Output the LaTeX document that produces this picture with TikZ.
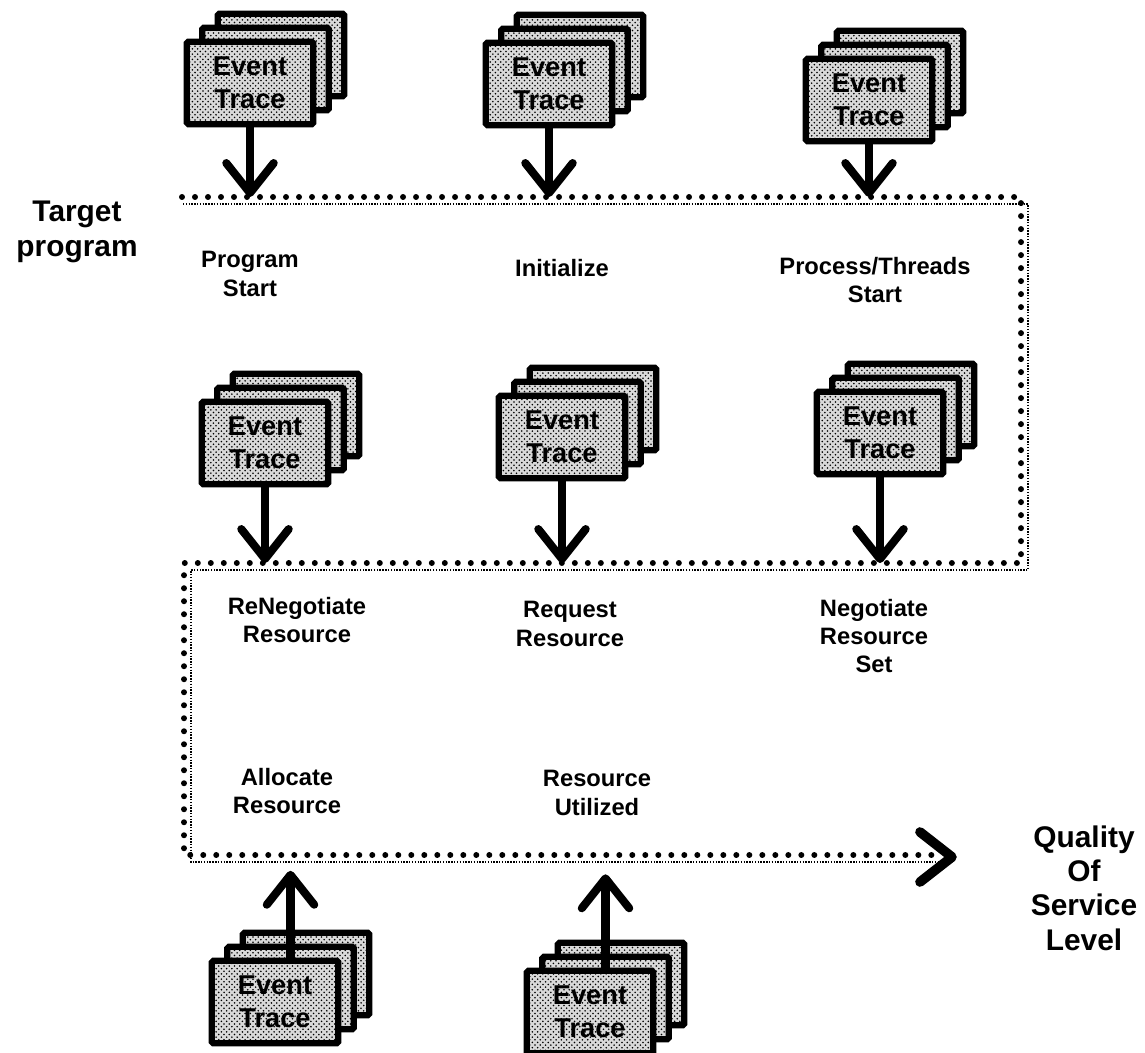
\documentclass[tikz,border=0pt]{standalone}
\usepackage{fontspec}
\setmainfont{Liberation Sans}
\usetikzlibrary{arrows.meta,patterns}

\tikzset{
  trace/.style={draw, line width=3.6pt, rounded corners=1pt, preaction={fill=black!15},
    pattern=crosshatch dots, minimum width=72pt, minimum height=47pt, inner sep=0pt,
    align=center, font=\bfseries\fontsize{15.5}{19}\selectfont},
  evarrow/.style={line width=4.6pt, line cap=round, -{Straight Barb[round,length=17pt,width=27pt]}},
  bigdots/.style={line width=3.4pt, line cap=round, dash pattern=on 0pt off 7.4pt},
  finedots/.style={line width=0.8pt, dash pattern=on 0.8pt off 0.8pt},
  lbl/.style={align=center, font=\bfseries\fontsize{13.5}{16}\selectfont},
  biglbl/.style={align=center, font=\bfseries\fontsize{17}{19.5}\selectfont},
}

\begin{document}
\begin{tikzpicture}[x=0.02cm,y=-0.02cm]

    \useasboundingbox (0,0) rectangle (1145,1053);

    % corners of the time line
    \coordinate (tl) at (182,197);
    \coordinate (tr) at (1021,197);
    \coordinate (mr) at (1021,563);
    \coordinate (ml) at (184,563);
    \coordinate (bl) at (184,855);
    \coordinate (be) at (952,857);

    % the time line: big dots and a fine dotted line beside them
    \draw[bigdots] (tl) -- (tr) -- (mr) -- (ml) -- (bl) -- ([shift={(-14,-2)}]be);
    \draw[finedots] ([shift={(1,7)}]tl) -- ([shift={(7,7)}]tr) -- ([shift={(7,7)}]mr)
        -- ([shift={(7,7)}]ml) -- ([shift={(7,7)}]bl) -- ([shift={(-14,5)}]be);
    \draw[line width=5.5pt, line cap=round, line join=round]
        ([shift={(-32,-25)}]be) -- (be) -- ([shift={(-32,25)}]be); % end of the line

    % stacks of event traces
    \foreach \n/\x/\y in {t1/250/83, t2/549/84, t3/869/100, t4/265/443,
                          t5/562/437, t6/880/433, t7/275/1002, t8/590/1012} {
        \node[trace] (b\n) at (\x+31,\y-28) {};
        \node[trace] (m\n) at (\x+15.5,\y-14) {};
        \node[trace] (\n) at (\x,\y) {Event\\Trace};
    }

    % traces flowing into the time line
    \draw[evarrow] (t1.south) -- (t1.south |- tr);
    \draw[evarrow] (t2.south) -- (t2.south |- tr);
    \draw[evarrow] (t3.south) -- (t3.south |- tr);
    \draw[evarrow] (t4.south) -- (t4.south |- ml);
    \draw[evarrow] (t5.south) -- (t5.south |- ml);
    \draw[evarrow] (t6.south) -- (t6.south |- ml);
    \draw[evarrow, shorten >=9pt] (mt7.north |- t7.north) -- (mt7.north |- bl);
    \draw[evarrow, shorten >=11pt] (mt8.north |- t8.north) -- (mt8.north |- bl);

    % labels
    \node[biglbl] (target) at (77,232) {Target\\program};
    \node[lbl] (start) at (250,274) {Program\\Start};
    \node[lbl] (init) at (562,268) {Initialize};
    \node[lbl] (threads) at (875,280) {Process/Threads\\Start};
    \node[lbl] (reneg) at (297,620) {ReNegotiate\\Resource};
    \node[lbl] (request) at (570,624) {Request\\Resource};
    \node[lbl] (neg) at (874,636) {Negotiate\\Resource\\Set};
    \node[lbl] (alloc) at (287,791) {Allocate\\Resource};
    \node[lbl] (used) at (597,793) {Resource\\Utilized};
    \node[biglbl] (qos) at (1084,888) {Quality\\Of\\Service\\Level};

\end{tikzpicture}
\end{document}
